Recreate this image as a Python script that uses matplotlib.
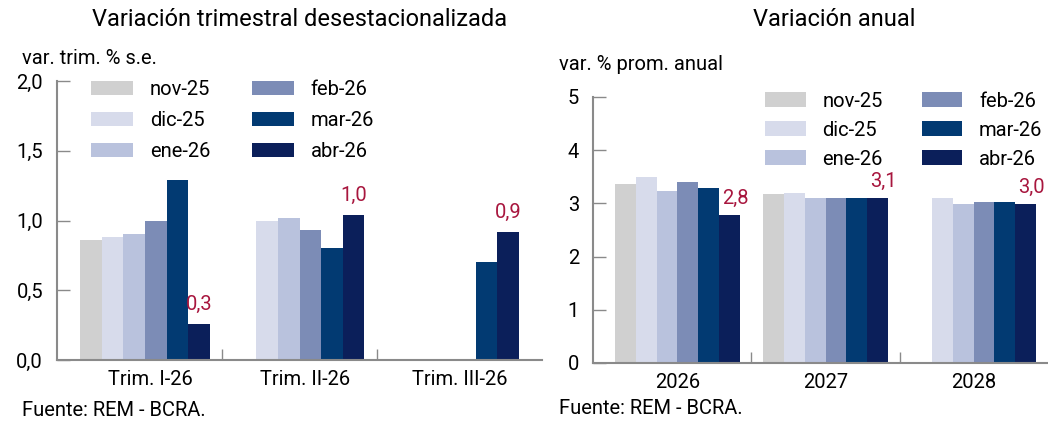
import numpy as np
import matplotlib
matplotlib.use('Agg')
import matplotlib.pyplot as plt

plt.rcParams['font.family'] = ['Roboto', 'DejaVu Sans']

# Data
series = ['nov-25', 'dic-25', 'ene-26', 'feb-26', 'mar-26', 'abr-26']
colors = ['#d0d0d0', '#d7dbeb', '#b9c2dd', '#7c8cb6', '#023a72', '#0b1f5a']

quarters = ['Trim. I-26', 'Trim. II-26', 'Trim. III-26']
q_nov25 = [0.86, np.nan, np.nan]
q_dic25 = [0.88, 1.00, np.nan]
q_ene26 = [0.90, 1.02, np.nan]
q_feb26 = [1.00, 0.93, np.nan]
q_mar26 = [1.29, 0.80, 0.70]
q_abr26 = [0.26, 1.04, 0.92]

years = ['2026', '2027', '2028']
y_nov25 = [3.37, 3.17, np.nan]
y_dic25 = [3.50, 3.19, 3.10]
y_ene26 = [3.23, 3.10, 2.99]
y_feb26 = [3.40, 3.10, 3.03]
y_mar26 = [3.29, 3.10, 3.03]
y_abr26 = [2.79, 3.10, 2.99]

LABEL_RED = '#a8163e'
SPINE = '#8a8a8a'
FS = 14.5
W, H = 1048, 421

fig = plt.figure(figsize=(W / 100, H / 100), dpi=100)

def px_axes(x0, x1, ytop, ybot):
    return fig.add_axes([x0 / W, 1 - ybot / H, (x1 - x0) / W, (ybot - ytop) / H])

def draw_panel(ax, cats, data, ylim, yticks, yfmt, bar_w, label_dx, label_dy, tick_shift):
    x = np.arange(len(cats))
    n = len(data)
    for i, (vals, name, c) in enumerate(zip(data, series, colors)):
        pos = x + (i - (n - 1) / 2) * bar_w
        ax.bar(pos, vals, bar_w, color=c, label=name, linewidth=0)
    # value labels on last series
    last = data[-1]
    pos = x + ((n - 1) / 2) * bar_w
    for p, v in zip(pos, last):
        ax.annotate(f'{v:.1f}'.replace('.', ','), (p, v), xytext=(label_dx, label_dy),
                    textcoords='offset points', ha='center', va='bottom',
                    color=LABEL_RED, fontsize=FS)
    ax.set_xlim(-0.57, len(cats) - 0.43)
    ax.set_ylim(*ylim)
    ax.set_yticks(yticks)
    ax.set_yticklabels([yfmt(t) for t in yticks])
    ax.set_xticks(x + tick_shift)
    ax.set_xticklabels(cats)
    ax.set_xticks([0.5, 1.5], minor=True)
    ax.tick_params(axis='x', which='major', length=0, labelsize=FS, pad=7)
    ax.tick_params(axis='x', which='minor', direction='in', length=8, width=1, color=SPINE)
    ax.tick_params(axis='y', direction='in', length=9, width=1, color=SPINE, labelsize=FS, pad=10)
    for s in ['top', 'right']:
        ax.spines[s].set_visible(False)
    for s in ['left', 'bottom']:
        ax.spines[s].set_color(SPINE)
        ax.spines[s].set_linewidth(1.5)

# Left panel
ax1 = px_axes(57, 542, 81, 360)
draw_panel(ax1, quarters, [q_nov25, q_dic25, q_ene26, q_feb26, q_mar26, q_abr26],
           (0, 2.0), [0, 0.5, 1.0, 1.5, 2.0], lambda t: f'{t:.1f}'.replace('.', ','),
           0.14, 0, 7, 0.035)
ax1.legend(ncol=2, loc='upper left', bbox_to_anchor=(0.05, 1.04), frameon=False,
           fontsize=FS, borderpad=0, handlelength=2.05, handleheight=0.75,
           handletextpad=0.85, columnspacing=2.1, labelspacing=0.6)

# Right panel
ax2 = px_axes(593, 1058, 97, 363)
draw_panel(ax2, years, [y_nov25, y_dic25, y_ene26, y_feb26, y_mar26, y_abr26],
           (0, 5), [0, 1, 2, 3, 4, 5], lambda t: f'{t:d}',
           0.14, 4.5, 5, 0.0)
ax2.legend(ncol=2, loc='upper left', bbox_to_anchor=(0.349, 1.058), frameon=False,
           fontsize=FS, borderpad=0, handlelength=2.0, handleheight=0.75,
           handletextpad=0.83, columnspacing=1.95, labelspacing=0.5)

# Titles and annotations
fig.text(299.5 / W, 1 - 20 / H, 'Variación trimestral desestacionalizada',
         ha='center', va='center', fontsize=17)
fig.text(834 / W, 1 - 20 / H, 'Variación anual', ha='center', va='center', fontsize=17)
fig.text(22 / W, 1 - 58 / H, 'var. trim. % s.e.', ha='left', va='center', fontsize=FS)
fig.text(559 / W, 1 - 65 / H, 'var. % prom. anual', ha='left', va='center', fontsize=FS)
fig.text(22 / W, 1 - 411 / H, 'Fuente: REM - BCRA.', ha='left', va='center', fontsize=FS)
fig.text(559 / W, 1 - 409 / H, 'Fuente: REM - BCRA.', ha='left', va='center', fontsize=FS)

fig.savefig('out.png', dpi=100)
